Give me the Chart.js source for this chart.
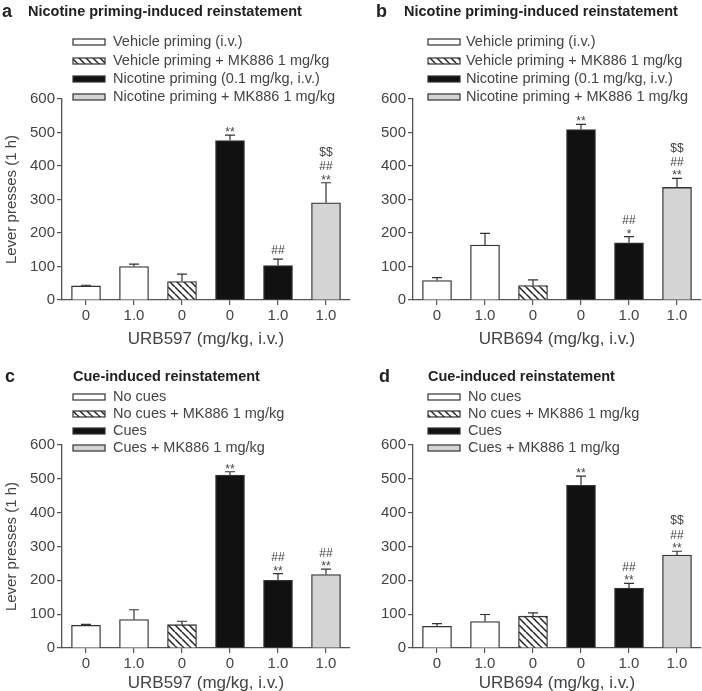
<!DOCTYPE html>
<html>
<head>
<meta charset="utf-8">
<script src="https://cdn.jsdelivr.net/npm/chart.js@4.4.1/dist/chart.umd.min.js"></script>
<style>
  html, body { margin: 0; padding: 0; background: #fff; width: 702px; height: 691px; overflow: hidden; }
  canvas { position: absolute; }
</style>
</head>
<body>
<canvas id="pa" width="351" height="350" style="left:0;top:0"></canvas>
<canvas id="pb" width="351" height="350" style="left:351px;top:0"></canvas>
<canvas id="pc" width="351" height="350" style="left:0;top:345px"></canvas>
<canvas id="pd" width="351" height="350" style="left:351px;top:345px"></canvas>
<script>
// --- data ---
const xLabels = ['0', '1.0', '0', '0', '1.0', '1.0'];
const barGroup = [0, 0, 1, 2, 2, 3]; // which legend entry each bar belongs to

const legendNicotine = ['Vehicle priming (i.v.)', 'Vehicle priming + MK886 1 mg/kg',
  'Nicotine priming (0.1 mg/kg, i.v.)', 'Nicotine priming + MK886 1 mg/kg'];
const legendCue = ['No cues', 'No cues + MK886 1 mg/kg', 'Cues', 'Cues + MK886 1 mg/kg'];

const meanA = [42, 100, 55, 476, 103, 290];
const errA = [2, 7, 22, 16, 19, 60];
const annA = [[], [], [], ['**'], ['##'], ['**', '##', '$$']];

const meanB = [58, 164, 43, 509, 171, 336];
const errB = [9, 35, 17, 15, 18, 27];
const annB = [[], [], [], ['**'], ['*', '##'], ['**', '##', '$$']];

const meanC = [67, 84, 69, 511, 200, 217];
const errC = [3, 29, 10, 10, 20, 16];
const annC = [[], [], [], ['**'], ['**', '##'], ['**', '##']];

const meanD = [64, 78, 94, 481, 177, 275];
const errD = [8, 21, 10, 27, 14, 11];
const annD = [[], [], [], ['**'], ['**', '##'], ['**', '##', '$$']];

const FONT = "'Liberation Sans', Arial, sans-serif";
Chart.defaults.font.family = FONT;
Chart.defaults.color = '#444';

// diagonal hatch for the MK886 vehicle bar
function makeHatch() {
  const s = 7;
  const c = document.createElement('canvas');
  c.width = c.height = s;
  const g = c.getContext('2d');
  g.fillStyle = '#fff';
  g.fillRect(0, 0, s, s);
  g.strokeStyle = '#222';
  g.lineWidth = 1.5;
  for (const o of [-s, 0, s]) {
    g.beginPath(); g.moveTo(o, 0); g.lineTo(o + s, s); g.stroke();
  }
  return g.createPattern(c, 'repeat');
}
const fills = ['#ffffff', makeHatch(), '#111111', '#d4d4d4'];

// stack significance marks above the error cap; asterisks sit high in the
// em box so they need less room than # or $
function drawMarks(ctx, lines, x, top) {
  let cursor = top - 4;
  lines.forEach(t => {
    if (t[0] === '*') {
      ctx.fillText(t, x, cursor + 5);
      cursor = cursor + 5 - 8.6 - 4;
    } else {
      ctx.fillText(t, x, cursor - 1);
      cursor = cursor - 1 - 9.2 - 4;
    }
  });
}

function panelPlugin(p) {
  return {
    id: 'panel_' + p.letter,
    afterDatasetsDraw(chart) {
      const ctx = chart.ctx, xs = chart.scales.x, ys = chart.scales.y;
      ctx.save();
      ctx.strokeStyle = '#333';
      ctx.lineWidth = 1.2;
      ctx.fillStyle = '#444';
      ctx.font = '12px ' + FONT;
      ctx.textAlign = 'center';
      ctx.textBaseline = 'alphabetic';
      p.mean.forEach((m, i) => {
        const x = xs.getPixelForValue(i);
        const y0 = ys.getPixelForValue(m);
        const y1 = ys.getPixelForValue(m + p.err[i]);
        ctx.beginPath();
        ctx.moveTo(x, y0); ctx.lineTo(x, y1);
        ctx.moveTo(x - 5, y1); ctx.lineTo(x + 5, y1);
        ctx.stroke();
        drawMarks(ctx, p.ann[i], x, y1);
      });
      ctx.restore();
    },
    afterDraw(chart) {
      const ctx = chart.ctx;
      ctx.save();
      ctx.fillStyle = '#222';
      ctx.textBaseline = 'middle';
      ctx.textAlign = 'left';
      ctx.font = 'bold 18px ' + FONT;
      ctx.fillText(p.letter, p.labelX, p.titleY);
      ctx.font = 'bold 14.5px ' + FONT;
      ctx.fillText(p.title, p.titleX, p.titleY);
      // legend
      ctx.font = '14.5px ' + FONT;
      p.legend.forEach((t, k) => {
        const y = p.rows[k];
        ctx.fillStyle = fills[k];
        ctx.fillRect(p.swX, y - 3, 32, 6);
        ctx.strokeStyle = '#333';
        ctx.lineWidth = 1.2;
        ctx.strokeRect(p.swX, y - 3, 32, 6);
        ctx.fillStyle = '#444';
        ctx.fillText(t, p.txX, y);
      });
      ctx.restore();
    }
  };
}

function makePanel(id, p) {
  const H = 350;
  new Chart(document.getElementById(id), {
    type: 'bar',
    data: {
      labels: xLabels,
      datasets: [{
        data: p.mean,
        backgroundColor: barGroup.map(g => fills[g]),
        borderColor: '#333',
        borderWidth: 1.3,
        borderSkipped: 'bottom',
        barThickness: 29
      }]
    },
    options: {
      responsive: false,
      animation: false,
      events: [],
      layout: { padding: { top: p.yTop, right: 1, left: 0, bottom: 0 } },
      plugins: { legend: { display: false }, tooltip: { enabled: false } },
      scales: {
        x: {
          grid: { offset: false, drawOnChartArea: false, tickLength: 5, color: '#555', lineWidth: 1.2 },
          border: { color: '#555', width: 1.3 },
          ticks: { font: { size: 15 }, color: '#444', padding: 2, maxRotation: 0 },
          title: { display: true, text: p.xTitle, font: { size: 17 }, color: '#444',
                   padding: { top: 0, bottom: H - p.xTitleY - 10.2 } },
          afterFit(s) { s.height = H - p.yZero; }
        },
        y: {
          min: 0, max: 600,
          ticks: { stepSize: 100, font: { size: 15 }, color: '#444', padding: 2 },
          grid: { drawOnChartArea: false, tickLength: 5, color: '#555', lineWidth: 1.2 },
          border: { color: '#555', width: 1.3 },
          title: { display: p.yTitle, text: 'Lever presses (1 h)', font: { size: 15 }, color: '#444',
                   padding: { top: 3, bottom: 0 } },
          afterFit(s) { s.width = 62; }
        }
      }
    },
    plugins: [panelPlugin(p)]
  });
}

makePanel('pa', { letter: 'a', title: 'Nicotine priming-induced reinstatement', legend: legendNicotine,
  mean: meanA, err: errA, ann: annA, xTitle: 'URB597 (mg/kg, i.v.)', yTitle: true,
  yTop: 99, yZero: 300, xTitleY: 339, labelX: 2, titleX: 28, titleY: 12,
  swX: 73, txX: 113, rows: [42, 61, 79, 97] });

makePanel('pb', { letter: 'b', title: 'Nicotine priming-induced reinstatement', legend: legendNicotine,
  mean: meanB, err: errB, ann: annB, xTitle: 'URB694 (mg/kg, i.v.)', yTitle: false,
  yTop: 99, yZero: 300, xTitleY: 339, labelX: 25, titleX: 53, titleY: 12,
  swX: 77, txX: 115, rows: [42, 61, 79, 97] });

makePanel('pc', { letter: 'c', title: 'Cue-induced reinstatement', legend: legendCue,
  mean: meanC, err: errC, ann: annC, xTitle: 'URB597 (mg/kg, i.v.)', yTitle: true,
  yTop: 100, yZero: 303, xTitleY: 338, labelX: 5, titleX: 73, titleY: 32,
  swX: 73, txX: 113, rows: [52, 69, 86, 103] });

makePanel('pd', { letter: 'd', title: 'Cue-induced reinstatement', legend: legendCue,
  mean: meanD, err: errD, ann: annD, xTitle: 'URB694 (mg/kg, i.v.)', yTitle: false,
  yTop: 100, yZero: 303, xTitleY: 338, labelX: 28, titleX: 77, titleY: 32,
  swX: 77, txX: 117, rows: [52, 69, 86, 103] });
</script>
</body>
</html>
